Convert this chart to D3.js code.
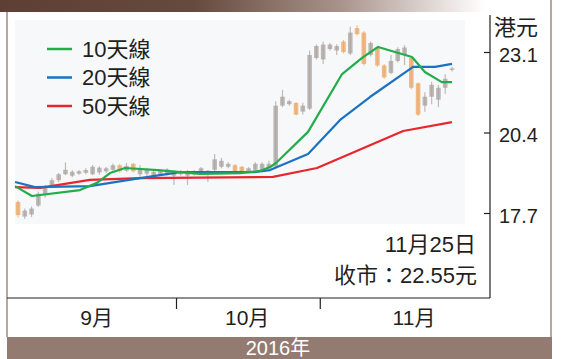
<!DOCTYPE html>
<html>
<head>
<meta charset="utf-8">
<script src="https://cdn.jsdelivr.net/npm/d3@7"></script>
<style>
  body { margin: 0; background: #fff; }
  svg { display: block; }
</style>
</head>
<body>
<div id="chart"></div>
<script>
// ---- data ----
// one entry per trading day, late Aug -> 25 Nov 2016
const opens  = [18.07,17.58,17.65,17.95,18.30,18.58,18.80,19.00,18.95,19.02,19.05,19.00,19.06,19.10,19.15,19.30,19.12,19.35,19.00,19.02,18.96,19.00,19.02,18.95,19.00,18.95,19.00,19.05,19.00,19.15,19.25,19.25,19.30,19.25,19.10,19.15,19.15,19.20,19.25,21.30,21.35,21.39,21.10,21.20,22.90,22.85,23.20,23.15,23.45,23.05,23.90,23.75,23.00,23.25,22.65,22.40,22.80,23.00,22.90,22.05,21.30,21.60,21.50,21.90,22.50];
const closes = [17.63,17.78,17.85,18.35,18.58,18.80,19.00,19.15,19.08,19.10,19.14,19.25,19.22,19.20,19.30,19.10,19.28,19.10,19.20,19.14,19.08,19.12,19.16,19.10,19.10,19.05,19.10,19.20,19.12,19.50,19.45,19.35,19.10,19.10,19.20,19.35,19.35,19.35,21.30,21.60,21.45,21.00,21.30,23.00,23.30,23.35,23.35,23.30,23.10,23.75,23.70,22.70,23.40,22.65,22.25,22.80,23.20,23.25,21.90,21.00,21.60,22.00,21.90,22.20,22.55];
const highs  = [18.12,17.85,17.92,18.42,18.64,18.87,19.04,19.40,19.14,19.14,19.20,19.31,19.27,19.24,19.36,19.34,19.38,19.38,19.30,19.20,19.14,19.16,19.20,19.14,19.14,19.15,19.14,19.24,19.14,19.68,19.55,19.40,19.34,19.28,19.24,19.40,19.40,19.45,21.45,21.83,21.50,21.42,21.40,23.15,23.35,23.45,23.40,23.36,23.50,23.95,24.00,23.80,23.45,23.30,22.70,23.00,23.26,23.33,22.95,22.08,21.75,22.10,22.00,22.35,22.60];
const lows   = [17.55,17.50,17.56,17.90,18.22,18.54,18.74,18.97,18.90,18.98,19.00,18.97,18.98,19.05,19.12,19.05,19.08,19.06,18.87,18.85,18.92,18.95,18.96,18.64,18.95,18.64,18.96,19.00,18.74,19.10,19.20,19.20,19.06,19.06,19.05,19.12,19.10,19.15,19.20,21.25,21.30,20.98,21.00,21.15,22.85,22.70,23.15,23.00,23.05,23.00,23.65,22.65,22.95,22.60,22.20,22.35,22.75,22.66,21.85,20.95,21.10,21.35,21.25,21.70,22.45];

// moving averages: [trading-day index, price] at the line's corners
const ma10 = [[-0.44,18.60],[2.06,18.27],[9.14,18.47],[11.65,18.71],[13.57,19.04],[15.78,19.21],[20.65,19.14],[26.84,19.01],[32.74,19.04],[35.69,19.11],[37.17,19.24],[38.2,19.41],[42.77,20.42],[47.79,22.36],[50.74,22.90],[53.1,23.27],[58.1,22.93],[60.0,22.43],[62.5,22.09],[64.0,22.09]];
const ma20 = [[-0.44,18.74],[2.5,18.57],[10.6,18.60],[18.0,18.87],[23.9,19.07],[34.66,19.07],[37.17,19.14],[42.77,19.68],[47.5,20.82],[51.9,21.59],[58.26,22.60],[61.5,22.60],[64.0,22.70]];
const ma50 = [[-0.44,18.57],[3.24,18.54],[10.6,18.81],[18.0,18.87],[37.6,18.91],[44.1,19.21],[56.8,20.45],[64.0,20.75]];

const seriesNames = ["10天線", "20天線", "50天線"];
const seriesColors = ["#22ad4b", "#1a72c3", "#e8262d"];

const priceTicks = [17.7, 20.4, 23.1];
const monthNames = ["9月", "10月", "11月"];
const monthLabelAt = [11.6, 33.8, 58.4];   // trading-day index of each label
const monthBounds = [23.3, 44.5];          // month changes between these days

const dateLabel = "11月25日";
const closeLabel = "收市：22.55元";
const unitLabel = "港元";
const yearLabel = "2016年";

// ---- layout ----
const width = 569, height = 359;
const plotLeft = 7, plotRight = 490, plotTop = 15, plotBottom = 298;
const font = "'Liberation Sans', 'Noto Sans CJK TC', sans-serif";

const svg = d3.select("#chart")
  .append("svg")
  .attr("width", width)
  .attr("height", height)
  .attr("viewBox", `0 0 ${width} ${height}`);

svg.append("rect").attr("width", width).attr("height", height).attr("fill", "#fff");

// top band, fading out to the right
const grad = svg.append("defs").append("linearGradient")
  .attr("id", "topband").attr("x1", "0%").attr("x2", "100%");
grad.append("stop").attr("offset", "0%").attr("stop-color", "#5d4033");
grad.append("stop").attr("offset", "40%").attr("stop-color", "#664a3d");
grad.append("stop").attr("offset", "70%").attr("stop-color", "#a8938a");
grad.append("stop").attr("offset", "100%").attr("stop-color", "#ffffff");
svg.append("rect")
  .attr("x", 0).attr("y", 0).attr("width", 485).attr("height", 12)
  .attr("fill", "url(#topband)");

// bottom band
svg.append("rect")
  .attr("x", plotLeft).attr("y", 337).attr("width", 552 - plotLeft).attr("height", height - 337)
  .attr("fill", "#937b72");
svg.append("text")
  .attr("x", 278).attr("y", 355)
  .attr("text-anchor", "middle")
  .attr("font-family", font).attr("font-size", "20px")
  .attr("fill", "#fff")
  .text(yearLabel);

// outer side borders
svg.append("line").attr("x1", plotLeft).attr("x2", plotLeft).attr("y1", 12).attr("y2", 337)
  .attr("stroke", "#9c8b85").attr("stroke-width", 1.5);
svg.append("line").attr("x1", 551).attr("x2", 551).attr("y1", 0).attr("y2", 337)
  .attr("stroke", "#9c8b85").attr("stroke-width", 1.5);

// scales
const x = d3.scaleLinear().domain([0, opens.length - 1]).range([18, 452]);
const y = d3.scaleLinear().domain([17.7, 23.1]).range([213, 52]);

// faint photo-like backdrop behind the candles
svg.append("rect")
  .attr("x", 15).attr("y", 20).attr("width", 450).attr("height", 204)
  .attr("fill", "#f6f8fa");

// candles
const days = d3.range(opens.length);
const candles = svg.append("g");
const candleColor = i => closes[i] >= opens[i] ? "#aaa19d" : "#eca662";

candles.selectAll("line")
  .data(days)
  .join("line")
  .attr("x1", i => x(i)).attr("x2", i => x(i))
  .attr("y1", i => y(highs[i])).attr("y2", i => y(lows[i]))
  .attr("stroke", candleColor)
  .attr("stroke-width", 1.2)
  .attr("opacity", 0.7);

candles.selectAll("rect")
  .data(days)
  .join("rect")
  .attr("x", i => x(i) - 2.3)
  .attr("width", 4.6)
  .attr("y", i => y(Math.max(opens[i], closes[i])))
  .attr("height", i => Math.max(1.5, Math.abs(y(opens[i]) - y(closes[i]))))
  .attr("fill", candleColor)
  .attr("opacity", 0.75);

// moving average lines
const line = d3.line().x(d => x(d[0])).y(d => y(d[1]));
[ma50, ma20, ma10].forEach((s, k) => {
  svg.append("path")
    .datum(s)
    .attr("d", line)
    .attr("fill", "none")
    .attr("stroke", seriesColors[2 - k])
    .attr("stroke-width", 2.2)
    .attr("stroke-linejoin", "round");
});

// frame: right axis line and bottom line
svg.append("line").attr("x1", plotRight).attr("x2", plotRight).attr("y1", plotTop).attr("y2", plotBottom)
  .attr("stroke", "#231f20").attr("stroke-width", 1.2);
svg.append("line").attr("x1", plotLeft).attr("x2", plotRight).attr("y1", plotBottom).attr("y2", plotBottom)
  .attr("stroke", "#231f20").attr("stroke-width", 1.2);

// right price axis, ticks pointing inward
const yAxis = svg.append("g")
  .attr("transform", `translate(${plotRight},0)`)
  .call(d3.axisRight(y).tickValues(priceTicks).tickFormat(d3.format(".1f"))
    .tickSizeInner(-6).tickSizeOuter(0).tickPadding(9));
yAxis.select(".domain").remove();
yAxis.selectAll("line").attr("stroke", "#231f20").attr("stroke-width", 1.2);
yAxis.selectAll("text")
  .attr("font-family", font).attr("font-size", "20px")
  .attr("fill", "#231f20").attr("dy", "0.47em");

svg.append("text")
  .attr("x", 494).attr("y", 35)
  .attr("font-family", font).attr("font-size", "22px")
  .attr("fill", "#231f20")
  .text(unitLabel);

// bottom month ticks + labels
const xAxis = svg.append("g")
  .attr("transform", `translate(0,${plotBottom})`)
  .call(d3.axisBottom(x).tickValues(monthBounds).tickFormat("").tickSizeInner(11).tickSizeOuter(0));
xAxis.select(".domain").remove();
xAxis.selectAll("line").attr("stroke", "#231f20").attr("stroke-width", 1.2);

svg.append("g").selectAll("text")
  .data(monthNames)
  .join("text")
  .attr("x", (d, i) => x(monthLabelAt[i]))
  .attr("y", 325)
  .attr("text-anchor", "middle")
  .attr("font-family", font).attr("font-size", "21px")
  .attr("fill", "#231f20")
  .text(d => d);

// closing note
svg.append("text")
  .attr("x", 476).attr("y", 252)
  .attr("text-anchor", "end")
  .attr("font-family", font).attr("font-size", "22px")
  .attr("fill", "#231f20")
  .text(dateLabel);
svg.append("text")
  .attr("x", 477).attr("y", 283)
  .attr("text-anchor", "end")
  .attr("font-family", font).attr("font-size", "22px")
  .attr("fill", "#231f20")
  .text(closeLabel);

// legend
const legend = svg.append("g").attr("transform", "translate(47,49)");
seriesNames.forEach((name, i) => {
  const row = legend.append("g").attr("transform", `translate(0,${i * 28.5})`);
  row.append("line")
    .attr("x1", 0).attr("x2", 25)
    .attr("stroke", seriesColors[i]).attr("stroke-width", 2.5);
  row.append("text")
    .attr("x", 35).attr("dy", "0.36em")
    .attr("font-family", font).attr("font-size", "22px")
    .attr("fill", "#231f20")
    .text(name);
});
</script>
</body>
</html>
